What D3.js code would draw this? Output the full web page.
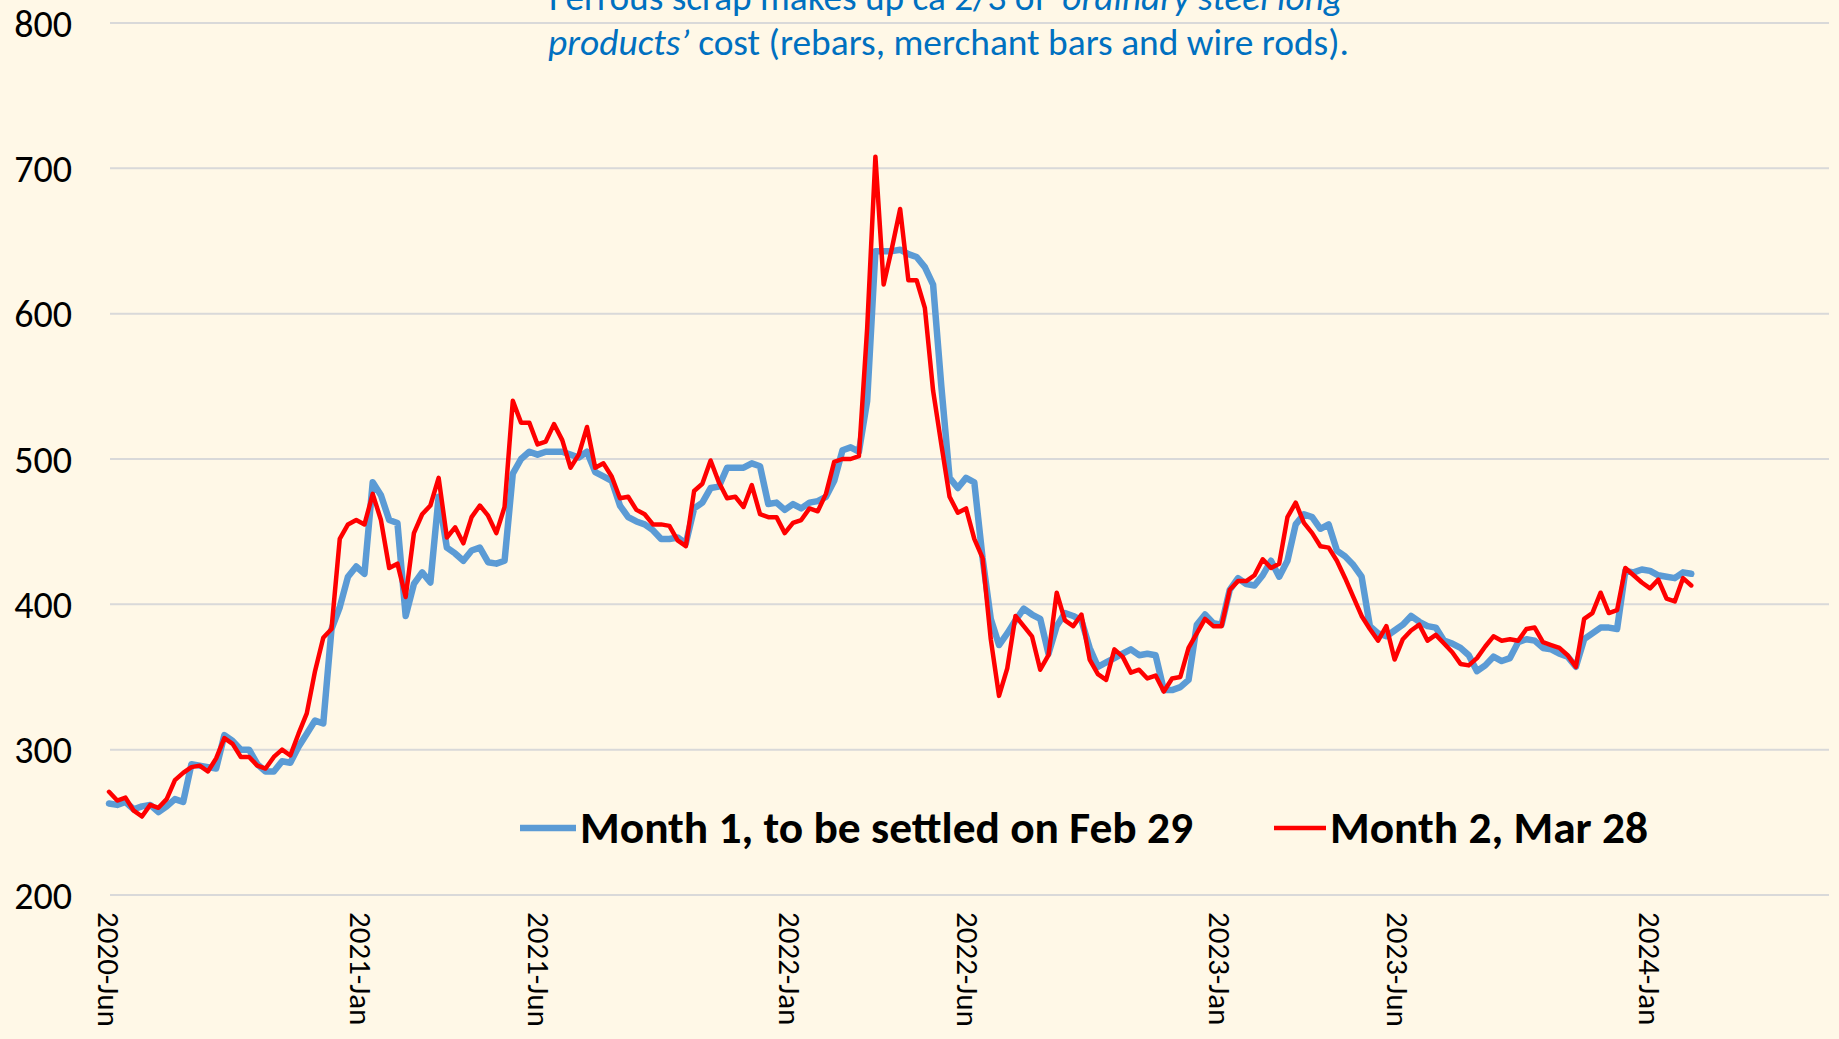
<!DOCTYPE html>
<html>
<head>
<meta charset="utf-8">
<script src="https://cdnjs.cloudflare.com/ajax/libs/d3/7.8.5/d3.min.js"></script>
<style>
  body { margin: 0; background: #fff8e7; }
  svg { display: block; }
  text { font-family: Carlito, Lato, "Noto Sans", sans-serif; }
</style>
</head>
<body>
<div id="chart"></div>
<script>
// weekly closes, ferrous scrap futures (USD/t)
var startDate = new Date(2020, 5, 1);

// Month 1, to be settled on Feb 29
var month1 = [263,262,264,259,261,262,257,261,266,264,290,289,288,287,310,306,300,300,290,285,
  285,292,291,302,311,320,318,383,398,419,426,421,484,475,458,456,392,414,422,415,
  474,439,435,430,437,439,429,428,430,490,500,505,503,505,505,505,503,501,505,491,
  488,485,468,460,457,455,451,445,445,446,442,466,470,480,481,494,494,494,497,495,
  469,470,465,469,466,470,471,474,485,506,508,505,540,643,643,643,644,641,639,632,
  620,550,487,480,487,484,432,390,372,380,389,397,393,390,366,385,394,392,389,370,
  357,360,363,366,369,365,366,365,341,341,343,348,386,393,387,386,410,418,414,413,
  420,430,419,430,455,462,460,452,455,437,433,427,419,385,380,378,382,386,392,388,
  385,384,375,373,370,365,354,358,364,361,363,374,376,375,370,369,366,364,357,376,
  380,384,384,383,423,422,424,423,420,419,418,422,421];

// Month 2, Mar 28
var month2 = [271,265,267,258,254,262,260,266,279,284,288,289,285,294,308,304,295,295,289,287,
  295,300,296,311,325,354,377,383,445,455,458,455,476,458,425,428,405,449,462,468,
  487,446,453,442,460,468,461,449,467,540,525,525,510,512,524,513,494,503,522,494,
  497,488,473,474,465,462,455,455,454,444,440,478,483,499,484,473,474,467,482,462,
  460,460,449,456,458,466,464,476,498,500,500,502,590,708,620,645,672,623,623,604,
  547,510,474,463,466,445,432,376,337,356,392,385,378,355,365,408,389,385,393,362,
  352,348,369,364,353,355,349,351,340,349,350,370,380,390,385,385,410,416,416,420,
  431,425,428,460,470,456,449,440,439,430,418,405,392,383,375,385,362,376,382,386,
  375,379,373,367,359,358,363,371,378,375,376,375,383,384,374,372,370,365,357,390,
  394,408,394,396,425,420,415,411,417,404,402,418,413];

var weeks = month1.map(function(d, i) { return d3.timeWeek.offset(startDate, i); });

var tickDates = [new Date(2020,5,1), new Date(2021,0,1), new Date(2021,5,1), new Date(2022,0,1),
                 new Date(2022,5,1), new Date(2023,0,1), new Date(2023,5,1), new Date(2024,0,1)];
var tickLabels = ["2020-Jun","2021-Jan","2021-Jun","2022-Jan","2022-Jun","2023-Jan","2023-Jun","2024-Jan"];
var yTicks = [200,300,400,500,600,700,800];

var seriesNames = ["Month 1, to be settled on Feb 29", "Month 2, Mar 28"];
var seriesColors = ["#5b9bd5", "#ff0000"];

function main() {
   drawChart();
}

function drawChart() {
   var width = 1839, height = 1039;

   var svg = d3.select("#chart").append("svg")
       .attr("width", width)
       .attr("height", height);

   svg.append("rect")
      .attr("width", width)
      .attr("height", height)
      .attr("fill", "#fff8e7");

   var x = d3.scaleTime()
      .domain([new Date(2020,5,1), new Date(2024,5,1)])
      .range([109, 1829]);

   var y = d3.scaleLinear()
      .domain([200, 800])
      .range([895, 23]);

   //gridlines
   svg.append("g")
      .selectAll("line")
      .data(yTicks)
      .enter().append("line")
         .attr("x1", 110)
         .attr("x2", 1829)
         .attr("y1", function(d) { return y(d); })
         .attr("y2", function(d) { return y(d); })
         .attr("stroke", "#d9d9d9")
         .attr("stroke-width", 2);

   //y labels
   svg.append("g")
      .selectAll("text")
      .data(yTicks)
      .enter().append("text")
         .attr("x", 72)
         .attr("y", function(d) { return y(d); })
         .attr("dy", "0.36em")
         .attr("text-anchor", "end")
         .style("font-size", "38px")
         .attr("fill", "#000")
         .text(function(d) { return d; });

   //x labels, rotated to read downwards
   svg.append("g")
      .selectAll("text")
      .data(tickDates)
      .enter().append("text")
         .attr("transform", function(d) { return "translate(" + x(d) + ",912) rotate(90)"; })
         .attr("dy", "0.36em")
         .attr("text-anchor", "start")
         .style("font-size", "31px")
         .attr("fill", "#000")
         .text(function(d, i) { return tickLabels[i]; });

   //lines
   var line = d3.line()
      .x(function(d, i) { return x(weeks[i]); })
      .y(function(d) { return y(d); });

   svg.append("path")
      .datum(month1)
      .attr("fill", "none")
      .attr("stroke", seriesColors[0])
      .attr("stroke-width", 6.5)
      .attr("stroke-linejoin", "round")
      .attr("stroke-linecap", "round")
      .attr("d", line);

   svg.append("path")
      .datum(month2)
      .attr("fill", "none")
      .attr("stroke", seriesColors[1])
      .attr("stroke-width", 4.5)
      .attr("stroke-linejoin", "round")
      .attr("stroke-linecap", "round")
      .attr("d", line);

   //legend
   var legend = [
      {x1: 520, x2: 576, tx: 580, tlen: 613, w: 6.5},
      {x1: 1274, x2: 1326, tx: 1330, tlen: 318, w: 4.5}
   ];
   legend.forEach(function(l, i) {
      svg.append("line")
         .attr("x1", l.x1).attr("x2", l.x2)
         .attr("y1", 828).attr("y2", 828)
         .attr("stroke", seriesColors[i])
         .attr("stroke-width", l.w);
      svg.append("text")
         .attr("x", l.tx)
         .attr("y", 828)
         .attr("dy", "0.34em")
         .style("font-size", "45px")
         .style("font-weight", "bold")
         .attr("textLength", l.tlen)
         .attr("lengthAdjust", "spacingAndGlyphs")
         .attr("fill", "#000")
         .text(seriesNames[i]);
   });

   //note at the top (first line runs off the top edge, as in the source)
   var note = svg.append("g")
      .style("font-size", "37px")
      .attr("fill", "#0070c0");

   var t1 = note.append("text")
      .attr("x", 549).attr("y", 10)
      .attr("textLength", 794)
      .attr("lengthAdjust", "spacingAndGlyphs");
   t1.append("tspan").text("Ferrous scrap makes up ca 2/3 of ");
   t1.append("tspan").style("font-style", "italic").text("\u2018ordinary steel long");

   var t2 = note.append("text")
      .attr("x", 548).attr("y", 55)
      .attr("textLength", 801)
      .attr("lengthAdjust", "spacingAndGlyphs");
   t2.append("tspan").style("font-style", "italic").text("products\u2019");
   t2.append("tspan").text(" cost (rebars, merchant bars and wire rods).");
}

main();
</script>
</body>
</html>
